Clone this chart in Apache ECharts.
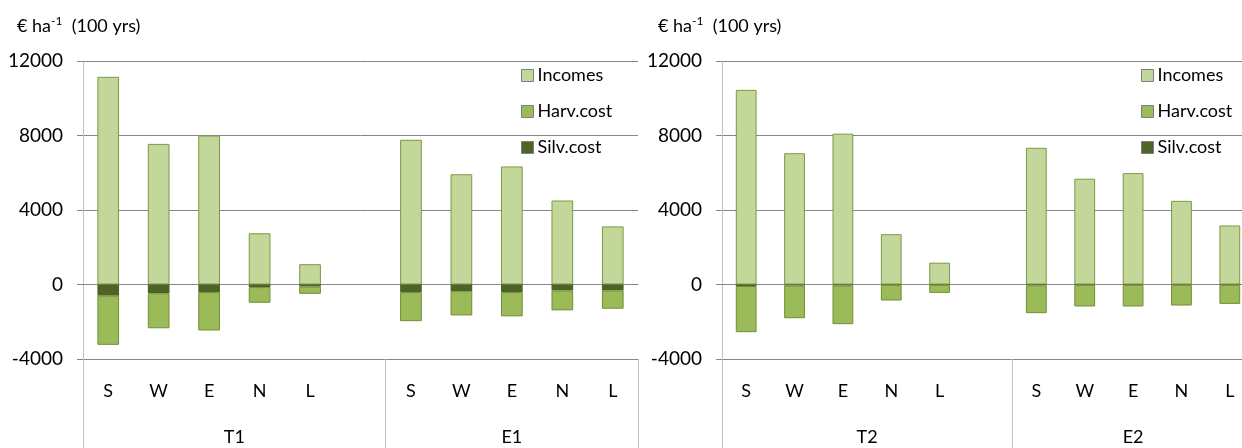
<!DOCTYPE html>
<html>
<head>
<meta charset="utf-8">
<script src="https://cdn.jsdelivr.net/npm/echarts@6/dist/echarts.min.js"></script>
<style>
  html, body { margin: 0; padding: 0; overflow: hidden; background: #fff; }
  #main { width: 1260px; height: 448px; }
</style>
</head>
<body>
<div id="main"></div>
<script>
// categories
const sites = ['S', 'W', 'E', 'N', 'L', '', 'S', 'W', 'E', 'N', 'L'];
const groupsLeft = ['T1', 'E1'];
const groupsRight = ['T2', 'E2'];
const groupSizes = [6, 5];
const yTicks = [-4000, 0, 4000, 8000, 12000];

// left panel (T1 / E1)
const incomesLeft = [11150, 7550, 8000, 2750, 1090, null, 7770, 5920, 6340, 4510, 3120];
const silvLeft = [-600, -470, -410, -140, -110, null, -410, -360, -410, -320, -320];
const harvLeft = [-2640, -1880, -2060, -840, -390, null, -1560, -1300, -1300, -1070, -980];

// right panel (T2 / E2)
const incomesRight = [10450, 7050, 8100, 2700, 1170, null, 7340, 5680, 5980, 4490, 3170];
const silvRight = [-80, -60, -60, -20, -20, null, -40, -20, -20, -20, -20];
const harvRight = [-2480, -1750, -2070, -840, -430, null, -1500, -1160, -1160, -1110, -1020];

const colors = { inc: '#c4d79b', harv: '#9bbb59', silv: '#4f6228' };
const font = 'Lato, "Liberation Sans", sans-serif';
const fs = 18;

const bounds = [0];
groupSizes.forEach(s => bounds.push(bounds[bounds.length - 1] + s));
const centers = groupSizes.map((s, i) => bounds[i] + s / 2);

function axesFor(gi, groupNames) {
  return [
    {
      type: 'category', gridIndex: gi, data: sites, position: 'bottom',
      axisLine: { onZero: true, lineStyle: { color: '#868686' } },
      axisTick: { length: 7, interval: 0, lineStyle: { color: '#a6a6a6' } },
      axisLabel: { show: false }
    },
    {
      type: 'category', gridIndex: gi, data: sites, position: 'bottom',
      axisLine: { onZero: false, lineStyle: { color: '#868686' } },
      axisTick: { length: 48, interval: 0, lineStyle: { color: '#c0c0c0' } },
      axisLabel: { interval: 0, margin: 23, fontSize: fs, color: '#000', fontFamily: font }
    },
    {
      type: 'value', gridIndex: gi, min: 0, max: sites.length, position: 'bottom',
      axisLine: { show: false, onZero: false },
      splitLine: { show: false },
      axisTick: { show: true, length: 90, customValues: bounds, lineStyle: { color: '#c0c0c0' } },
      axisLabel: {
        customValues: centers, margin: 69, fontSize: fs, color: '#000', fontFamily: font,
        formatter: v => groupNames[centers.indexOf(v)]
      }
    }
  ];
}

function yAxisFor(gi) {
  return {
    type: 'value', gridIndex: gi, min: -4000, max: 12000, interval: 4000,
    axisLine: { show: true, onZero: false, lineStyle: { color: '#c0c0c0' } },
    axisTick: { show: true, length: 6, lineStyle: { color: '#868686' } },
    splitLine: { lineStyle: { color: '#868686' } },
    axisLabel: { margin: 20, fontSize: 19, color: '#000', fontFamily: font,
      formatter: v => yTicks.includes(v) ? String(v) : '' }
  };
}

function seriesFor(xi, yi, inc, silv, harv) {
  const base = { type: 'bar', stack: 'tot' + xi, xAxisIndex: xi, yAxisIndex: yi, barWidth: '43%' };
  return [
    Object.assign({}, base, { name: 'Incomes', data: inc,
      itemStyle: { color: colors.inc, borderColor: '#7a9a45', borderWidth: 1 } }),
    Object.assign({}, base, { name: 'Silv.cost', data: silv,
      itemStyle: { color: colors.silv, borderColor: colors.silv, borderWidth: 0 } }),
    Object.assign({}, base, { name: 'Harv.cost', data: harv,
      itemStyle: { color: colors.harv, borderColor: '#6f8f35', borderWidth: 1 } })
  ];
}

function titleFor(x) {
  return {
    left: x, top: 10,
    text: '{a|€ ha}{s|-1}{a|  (100 yrs)}',
    textStyle: {
      fontWeight: 'normal',
      rich: {
        a: { fontSize: fs, fontWeight: 'normal', color: '#000', fontFamily: font, lineHeight: 22 },
        s: { fontSize: 12, fontWeight: 'normal', color: '#000', fontFamily: font, verticalAlign: 'top', lineHeight: 22, padding: [0, 0, 6, 0] }
      }
    }
  };
}

function legendFor(x) {
  return {
    orient: 'vertical', left: x, top: 60, itemWidth: 12, itemHeight: 12, itemGap: 15,
    icon: 'rect', selectedMode: false,
    data: ['Incomes', 'Harv.cost', 'Silv.cost'],
    textStyle: { fontSize: fs, color: '#000', fontFamily: font, lineHeight: 21, padding: [0, 0, 0, -1] },
    itemStyle: { borderColor: '#7f7f7f', borderWidth: 1 }
  };
}

const leftAxes = axesFor(0, groupsLeft);
const rightAxes = axesFor(1, groupsRight);

const option = {
  animation: false,
  textStyle: { fontFamily: font },
  title: [titleFor(12), titleFor(653)],
  legend: [legendFor(516), legendFor(1136)],
  grid: [
    { left: 83, top: 61, width: 555, height: 298 },
    { left: 722, top: 61, width: 532, height: 298 }
  ],
  xAxis: leftAxes.concat(rightAxes),
  yAxis: [yAxisFor(0), yAxisFor(1)],
  series: seriesFor(0, 0, incomesLeft, silvLeft, harvLeft)
    .concat(seriesFor(3, 1, incomesRight, silvRight, harvRight))
};

const chart = echarts.init(document.getElementById('main'));
chart.setOption(option);
</script>
</body>
</html>
